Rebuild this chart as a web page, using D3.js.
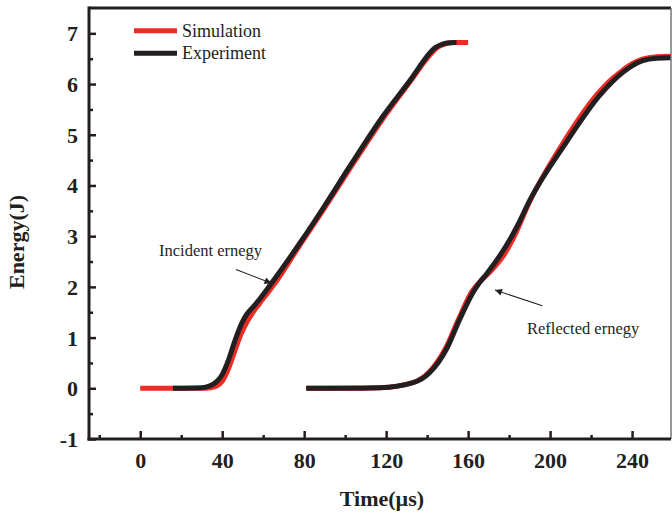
<!DOCTYPE html>
<html>
<head>
<meta charset="utf-8">
<script src="https://cdn.jsdelivr.net/npm/d3@7"></script>
<style>
  body { margin: 0; background: #fff; }
  svg { display: block; font-family: "Liberation Serif", "Times New Roman", serif; }
  .axis path { display: none; }
  .axis line { stroke: #231f20; stroke-width: 2.5; }
  .axis text { font-weight: bold; font-size: 22px; fill: #231f20; font-family: "Liberation Serif", serif; }
</style>
</head>
<body>
<svg id="chart" width="672" height="517"></svg>
<script>
// incident wave
const incExpT = [16, 30, 34, 37, 40, 43, 46.3, 49.5, 52, 55, 58.5, 64.2, 78, 90, 102.3, 118.5, 133.2, 138, 141, 144, 147, 150, 154.3];
const incExpE = [0, 0.01, 0.05, 0.12, 0.27, 0.55, 0.95, 1.28, 1.46, 1.6, 1.77, 2.08, 2.87, 3.6, 4.38, 5.37, 6.16, 6.44, 6.6, 6.72, 6.78, 6.81, 6.82];
const incSimT = [0, 16, 30, 34, 37, 40, 43, 46, 49, 52, 55, 58, 61, 65, 78, 90, 102.3, 118.5, 133, 138.5, 142, 145, 148, 152, 160];
const incSimE = [0, 0, 0, 0.01, 0.04, 0.14, 0.38, 0.72, 1.05, 1.3, 1.5, 1.66, 1.82, 2.03, 2.83, 3.56, 4.33, 5.32, 6.12, 6.43, 6.6, 6.72, 6.78, 6.82, 6.82];

// reflected wave
const refExpT = [81, 100, 117, 133.2, 141.3, 149.4, 155.9, 162.4, 165.5, 168.9, 173.5, 178.7, 184, 190, 207.9, 224.1, 230, 235.5, 240, 245.2, 252, 260];
const refExpE = [0, 0, 0.01, 0.11, 0.31, 0.77, 1.36, 1.89, 2.08, 2.25, 2.5, 2.82, 3.2, 3.7, 4.85, 5.77, 6.03, 6.23, 6.36, 6.46, 6.51, 6.52];
const refSimT = [81, 117, 133, 141, 149, 155.5, 162, 167, 172, 177, 182, 190, 207, 223, 229, 235, 240, 245, 252, 260];
const refSimE = [0, 0.01, 0.11, 0.32, 0.79, 1.38, 1.92, 2.15, 2.35, 2.6, 2.95, 3.68, 4.88, 5.8, 6.06, 6.26, 6.4, 6.49, 6.54, 6.55];

const xMajor = [0, 40, 80, 120, 160, 200, 240];
const xMinor = [-20, 20, 60, 100, 140, 180, 220];
const yMajor = [-1, 0, 1, 2, 3, 4, 5, 6, 7];
const yMinor = [-0.5, 0.5, 1.5, 2.5, 3.5, 4.5, 5.5, 6.5];

const RED = "#ee2b24", BLACK = "#231f20";

const svg = d3.select("#chart");
const pL = 89, pR = 671, pT = 8, pB = 439;

const x = d3.scaleLinear().domain([-25, 259]).range([pL, pR]);
const y = d3.scaleLinear().domain([-1, 7.5]).range([pB, pT]);

svg.append("clipPath").attr("id", "clip")
  .append("rect").attr("x", pL).attr("y", pT).attr("width", pR - pL).attr("height", pB - pT);

const line = d3.line().x(d => x(d[0])).y(d => y(d[1])).curve(d3.curveMonotoneX);
const zip = (t, e) => t.map((v, i) => [v, e[i]]);

const plot = svg.append("g").attr("clip-path", "url(#clip)");
const series = [
  [incSimT, incSimE, RED],
  [refSimT, refSimE, RED],
  [incExpT, incExpE, BLACK],
  [refExpT, refExpE, BLACK]
];
series.forEach(s => {
  plot.append("path")
    .attr("d", line(zip(s[0], s[1])))
    .attr("fill", "none")
    .attr("stroke", s[2])
    .attr("stroke-width", 5)
    .attr("stroke-linejoin", "round");
});

// axes
const fmt = d => String(d);
svg.append("g").attr("class", "axis").attr("transform", `translate(0,${pB})`)
  .call(d3.axisBottom(x).tickValues(xMajor).tickSize(-8).tickPadding(29).tickFormat(fmt))
  .selectAll("text").attr("dy", "0");
svg.append("g").attr("class", "axis").attr("transform", `translate(0,${pB})`)
  .call(d3.axisBottom(x).tickValues(xMinor).tickSize(-4).tickFormat(""));

svg.append("g").attr("class", "axis").attr("transform", `translate(${pL},0)`)
  .call(d3.axisLeft(y).tickValues(yMajor).tickSize(-7).tickPadding(11).tickFormat(fmt))
  .selectAll("text").attr("dy", "0.34em");
svg.append("g").attr("class", "axis").attr("transform", `translate(${pL},0)`)
  .call(d3.axisLeft(y).tickValues(yMinor).tickSize(-4).tickFormat(""));

// frame
svg.append("line").attr("x1", pL).attr("x2", pR).attr("y1", pT).attr("y2", pT)
  .attr("stroke", BLACK).attr("stroke-width", 2.8);
svg.append("line").attr("x1", pR).attr("x2", pR).attr("y1", pT).attr("y2", pB)
  .attr("stroke", "#777").attr("stroke-width", 1.5);
svg.append("line").attr("x1", pL).attr("x2", pL).attr("y1", pT - 1.4).attr("y2", pB + 1.4)
  .attr("stroke", BLACK).attr("stroke-width", 3);
svg.append("line").attr("x1", pL - 1.5).attr("x2", pR).attr("y1", pB).attr("y2", pB)
  .attr("stroke", BLACK).attr("stroke-width", 3);

// axis titles
svg.append("text").attr("x", 382).attr("y", 506).attr("text-anchor", "middle")
  .attr("font-size", 22).attr("font-weight", "bold").attr("fill", BLACK).text("Time(\u00b5s)");
svg.append("text").attr("transform", "translate(24,242) rotate(-90)").attr("text-anchor", "middle")
  .attr("font-size", 22).attr("font-weight", "bold").attr("fill", BLACK).text("Energy(J)");

// legend
const legend = [["Simulation", RED], ["Experiment", BLACK]];
legend.forEach((d, i) => {
  const ly = 30.7 + i * 22.6;
  svg.append("line").attr("x1", 134).attr("x2", 177).attr("y1", ly).attr("y2", ly)
    .attr("stroke", d[1]).attr("stroke-width", 5);
  svg.append("text").attr("x", 182).attr("y", ly + 6).attr("font-size", 18)
    .attr("fill", BLACK).text(d[0]);
});

// annotations
svg.append("defs").append("marker").attr("id", "arr")
  .attr("viewBox", "0 0 10 10").attr("refX", 10).attr("refY", 5)
  .attr("markerWidth", 10).attr("markerHeight", 7).attr("markerUnits", "userSpaceOnUse")
  .attr("orient", "auto")
  .append("path").attr("d", "M0,0 L10,5 L0,10 Z").attr("fill", BLACK);

svg.append("text").attr("x", 159).attr("y", 256).attr("font-size", 16.5).attr("fill", BLACK).text("Incident ernegy");
svg.append("line").attr("x1", 236).attr("y1", 269.5).attr("x2", 271.5).attr("y2", 283.3)
  .attr("stroke", BLACK).attr("stroke-width", 1.1).attr("marker-end", "url(#arr)");

svg.append("text").attr("x", 527).attr("y", 334).attr("font-size", 16.5).attr("fill", BLACK).text("Reflected ernegy");
svg.append("line").attr("x1", 542.3).attr("y1", 305.7).attr("x2", 495).attr("y2", 290)
  .attr("stroke", BLACK).attr("stroke-width", 1.1).attr("marker-end", "url(#arr)");
</script>
</body>
</html>
